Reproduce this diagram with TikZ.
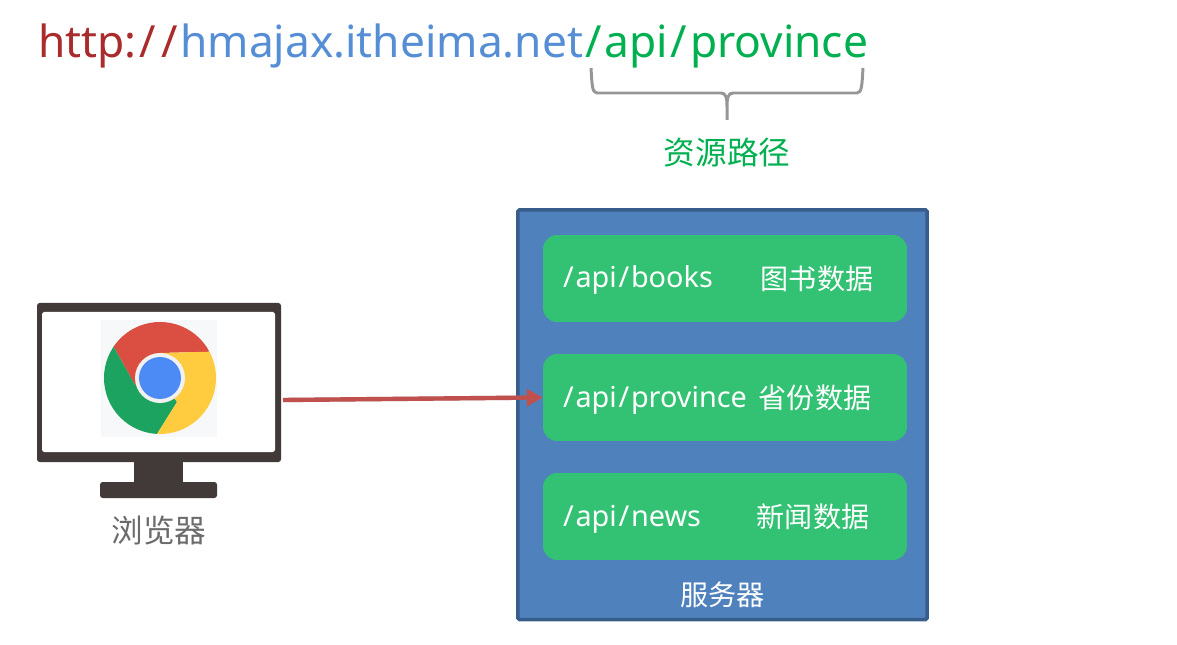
\documentclass[tikz,border=0pt]{standalone}
\usepackage{fontspec}
\setmainfont{Noto Sans}
\newfontfamily\cjk{Noto Sans CJK SC}
\usetikzlibrary{arrows.meta}

\definecolor{urlred}{HTML}{A92B2B}
\definecolor{urlblue}{HTML}{558ED5}
\definecolor{urlgreen}{HTML}{00B050}
\definecolor{bracegray}{HTML}{969696}
\definecolor{servblue}{HTML}{4F81BD}
\definecolor{servedge}{HTML}{385D8A}
\definecolor{boxgreen}{HTML}{33C173}
\definecolor{screendark}{HTML}{413A39}
\definecolor{arrowred}{HTML}{C0504D}
\definecolor{logored}{HTML}{DB4F42}
\definecolor{logogreen}{HTML}{1DA360}
\definecolor{logoyellow}{HTML}{FFCB3F}
\definecolor{logoblue}{HTML}{4C8BF5}
\definecolor{logoring}{HTML}{F1F1F1}
\definecolor{logoback}{HTML}{F7F8FA}

\newcommand{\wideslash}{\kern.06em/\kern.06em}

\tikzset{
	server/.style={draw=servedge, line width=2pt, fill=servblue, rounded corners=1pt, minimum width=8.19cm, minimum height=8.2cm, inner sep=0pt},
	databox/.style={fill=boxgreen, rounded corners=8pt, minimum width=7.28cm, minimum height=1.74cm, inner sep=0pt},
	pathlabel/.style={anchor=base west, text=white, font=\fontsize{16.4}{18}\selectfont, inner sep=0pt},
	datalabel/.style={text=white, font=\cjk\fontsize{16}{18}\selectfont, inner sep=0pt},
	screenpart/.style={fill=screendark, rounded corners=1.5pt}
}

\begin{document}
\begin{tikzpicture}[x=0.02cm, y=-0.02cm]
	\useasboundingbox (0,0) rectangle (1177,645);

	% address line
	\node[anchor=base west, inner sep=0pt, font=\fontsize{25.2}{30}\selectfont] (url) at (38,58)
		{\textcolor{urlred}{http:\wideslash\wideslash}\textcolor{urlblue}{hmajax.itheima.net}\textcolor{urlgreen}{\wideslash api\wideslash province}};
	\draw[bracegray, line width=1.7pt] (591,68) .. controls (592,84) and (592,93) .. (597,93) -- (721,93)
		.. controls (726,93) and (727,98) .. (727,107) -- (727,120) -- (727,107)
		.. controls (727,98) and (728,93) .. (733,93) -- (857,93)
		.. controls (862,93) and (862,84) .. (863,68);
	\node[text=urlgreen, inner sep=0pt, font=\cjk\fontsize{18}{20}\selectfont] (respath) at (727,153) {资源路径};

	% server side
	\node[server] (serv) at (722.5,414.75) {};
	\node[databox] (books) at (725,278.5) {};
	\node[databox] (prov) at (725,397.5) {};
	\node[databox] (news) at (725,516.5) {};
	\node[pathlabel] (bookspath) at (561,288) {\wideslash api\wideslash books};
	\node[datalabel] (booksdata) at (817,278.5) {图书数据};
	\node[pathlabel] (provpath) at (561,407) {\wideslash api\wideslash province};
	\node[datalabel] (provdata) at (815,397.5) {省份数据};
	\node[pathlabel] (newspath) at (561,526) {\wideslash api\wideslash news};
	\node[datalabel] (newsdata) at (813,516.5) {新闻数据};
	\node[text=white, inner sep=0pt, font=\cjk\fontsize{16}{18}\selectfont] (servname) at (722.5,595) {服务器};

	% browser side
	\fill[screendark] (134,460) rectangle (183,484);
	\fill[screenpart] (100,482) rectangle (217,498);
	\fill[screenpart] (37,303) rectangle (281,462);
	\fill[white, rounded corners=1pt] (42,312) rectangle (275,452);
	\fill[logoback] (101,320) rectangle (217,437);
	\coordinate (logo) at (160,378);
	\fill[logored] (logo) ++(-28:56) arc[start angle=-28, end angle=-146, radius=56] -- (135,385) -- (logo) -- (160,353) -- cycle;
	\fill[logogreen] (logo) ++(-146:56) arc[start angle=-146, end angle=-267, radius=56] -- (177,402) -- (logo) -- (135,385) -- cycle;
	\fill[logoyellow] (logo) ++(-267:56) arc[start angle=-267, end angle=-388, radius=56] -- (160,353) -- (logo) -- (177,402) -- cycle;
	\fill[logoring] (logo) circle[radius=25];
	\fill[logoblue] (logo) circle[radius=21];
	\node[text=black!58, inner sep=0pt, font=\cjk\fontsize{18}{20}\selectfont] (browser) at (159,530) {浏览器};

	% request
	\coordinate (reqstart) at (283,400);
	\draw[-{Triangle[length=9pt, width=9.5pt]}, black!45, opacity=.5, line width=2.5pt, yshift=-0.03cm] (reqstart) -- (prov.west);
	\draw[-{Triangle[length=9pt, width=9.5pt]}, arrowred, line width=2.5pt] (reqstart) -- (prov.west);
\end{tikzpicture}
\end{document}
